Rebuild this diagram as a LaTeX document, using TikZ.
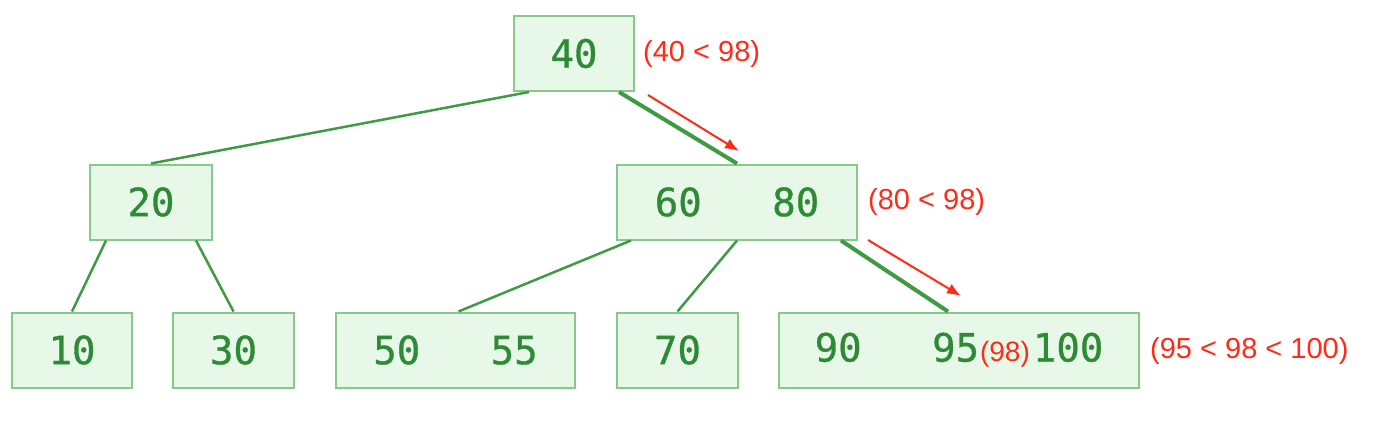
\documentclass[tikz,border=0pt]{standalone}
\usepackage{xcolor}
\usepackage{fontspec}
\newfontfamily\keyfont[FakeBold=0.8]{DejaVu Sans Mono}
\newfontfamily\notefont{Liberation Sans}
\definecolor{keygreen}{HTML}{2E8B35}
\definecolor{boxline}{HTML}{86C98A}
\definecolor{boxfill}{HTML}{E8F8E8}
\definecolor{edgegreen}{HTML}{3E9B44}
\definecolor{notered}{HTML}{FF2A1A}
\tikzset{
	keybox/.style={draw=boxline, fill=boxfill, line width=2pt, minimum height=75pt, inner sep=0pt,
		text=keygreen, font=\keyfont\fontsize{39}{39}\selectfont},
	treeedge/.style={draw=edgegreen, line width=2.5pt},
	pathedge/.style={draw=edgegreen, line width=4pt},
	note/.style={text=notered, font=\notefont\fontsize{29}{29}\selectfont, inner sep=0pt, anchor=west},
	searcharrow/.style={draw=notered, line width=2pt, -{Latex[length=14pt,width=11pt]}}
}
\usetikzlibrary{arrows.meta}
\begin{document}
\begin{tikzpicture}[x=1pt, y=-1pt]
	\useasboundingbox (0,0) rectangle (1390,442);
	% Define the nodes with specific positions
	\node[keybox, minimum width=120pt] (n40) at (574, 53.5) {40};
	\node[keybox, minimum width=122pt] (n20) at (151, 202) {20};
	\node[keybox, minimum width=240pt] (n6080) at (737, 202) {60\hspace{70.5pt}80};
	\node[keybox, minimum width=120pt] (n10) at (72, 350) {10};
	\node[keybox, minimum width=121pt] (n30) at (233.5, 350) {30};
	\node[keybox, minimum width=239pt] (n5055) at (455.5, 350) {50\hspace{70.5pt}55};
	\node[keybox, minimum width=121pt] (n70) at (677.5, 350) {70};
	\node[keybox, minimum width=360pt] (n90) at (959, 350)
		{90\hspace{70.5pt}95{\notefont\fontsize{28}{28}\selectfont\color{notered}\hspace{1pt}(98)\hspace{3pt}}100};

	% Draw the edges between the nodes
	\draw[treeedge] ([xshift=16pt]n40.south west) -- (n20.north);
	\draw[pathedge] ([xshift=-16pt]n40.south east) -- (n6080.north);
	\draw[treeedge] ([xshift=17pt]n20.south west) -- (n10.north);
	\draw[treeedge] ([xshift=-17pt]n20.south east) -- (n30.north);
	\draw[treeedge] ([xshift=15pt]n6080.south west) -- ([xshift=3pt]n5055.north);
	\draw[treeedge] (n6080.south) -- (n70.north);
	\draw[pathedge] ([xshift=-17pt]n6080.south east) -- ([xshift=-11pt]n90.north);

	% Search notes and arrows
	\node[note] (c40) at (643, 54) {(40 < 98)};
	\node[note] (c80) at (868, 202) {(80 < 98)};
	\node[note] (c100) at (1150, 351) {(95 < 98 < 100)};
	\coordinate (a1) at (648, 95);
	\coordinate (b1) at (739, 151);
	\coordinate (a2) at (868, 240);
	\coordinate (b2) at (961, 296);
	\draw[searcharrow] (a1) -- (b1);
	\draw[searcharrow] (a2) -- (b2);
\end{tikzpicture}
\end{document}
